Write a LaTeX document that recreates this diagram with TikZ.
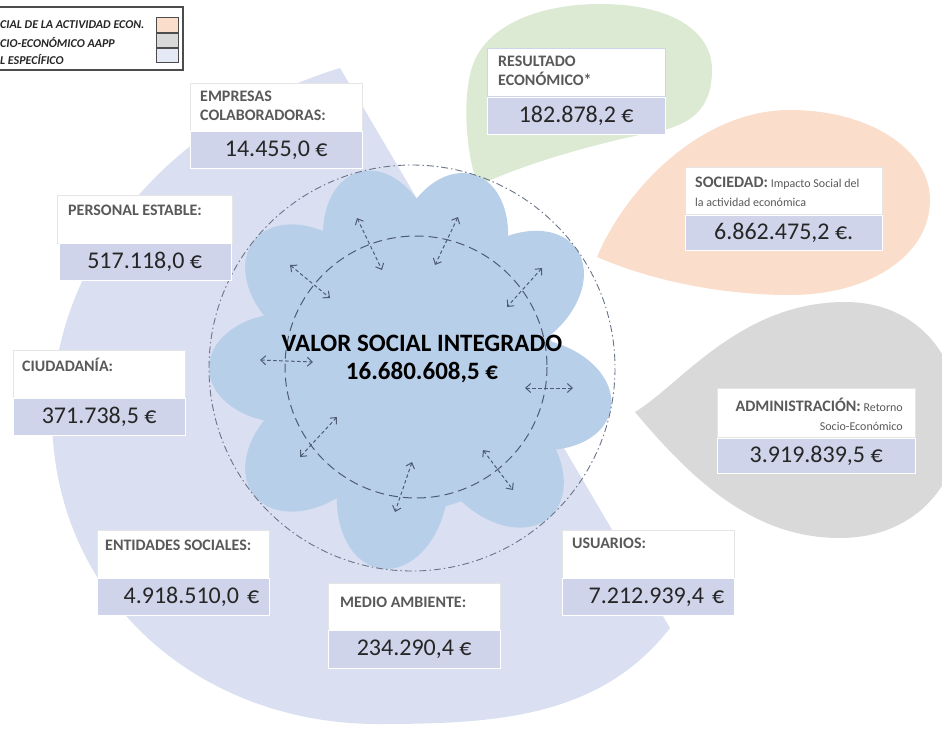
\documentclass[tikz,border=0pt]{standalone}
\usepackage{fontspec}
\setmainfont{Carlito}
\usetikzlibrary{positioning,arrows.meta}
\definecolor{bgblue}{RGB}{218,224,241}
\definecolor{flower}{RGB}{184,207,234}
\definecolor{valblue}{RGB}{207,212,234}
\definecolor{greenbub}{RGB}{220,234,211}
\definecolor{peachbub}{RGB}{250,221,202}
\definecolor{graybub}{RGB}{217,217,217}
\definecolor{lbltxt}{RGB}{89,89,89}
\definecolor{valtxt}{RGB}{38,38,38}
\definecolor{ringcol}{RGB}{78,92,115}
\tikzset{lbl box/.style={fill=white,draw=black!10,minimum width=172pt,minimum height=48pt,inner sep=0pt,anchor=north west},
  val box/.style={fill=valblue,draw=white,minimum width=172pt,minimum height=37pt,inner sep=0pt,text=valtxt,font=\fontsize{24}{24}\selectfont},
  val right/.style={align=right,text width=152pt},
  lbl txt/.style={text=lbltxt,align=left,inner sep=0pt,anchor=north west,font=\bfseries\fontsize{16}{19}\selectfont},
  small txt/.style={font=\fontsize{12}{19}\selectfont},
  swatch/.style={draw=black!70,line width=0.8pt,minimum width=22pt,minimum height=14.5pt,inner sep=0pt},
  leg txt/.style={anchor=west,inner sep=0pt,text=black!85,font=\bfseries\itshape\fontsize{12}{12}\selectfont},
  dash ring/.style={draw=ringcol,line width=1pt,dash pattern=on 9pt off 5pt},
  dashdot ring/.style={draw=ringcol!85,line width=0.9pt,dash pattern=on 7pt off 3pt on 1.5pt off 3pt},
  dbl arrow/.style={draw=ringcol,line width=1pt,dash pattern=on 3.5pt off 2.5pt,{Straight Barb[length=5pt,width=9pt]}-{Straight Barb[length=5pt,width=9pt]}}}

\begin{document}
\begin{tikzpicture}[x=1pt,y=-1pt]
\useasboundingbox (0,0) rectangle (942,736);
\clip (0,0) rectangle (942,736);

% fondo
\fill[bgblue] (340,68) -- (670,628) .. controls (600,718) and (495,724) .. (378,724)
  .. controls (200,724) and (55,600) .. (52,420)
  .. controls (50,260) and (170,120) .. (340,68) -- cycle;

% globos
\fill[greenbub] (478,186) .. controls (468,160) and (462,110) .. (470,75)
  .. controls (480,25) and (540,4) .. (600,4)
  .. controls (670,4) and (712,30) .. (712,70)
  .. controls (712,110) and (690,125) .. (655,132)
  .. controls (600,142) and (520,165) .. (478,186) -- cycle;
\fill[peachbub] (597,257) .. controls (625,190) and (700,110) .. (790,110)
  .. controls (870,110) and (930,150) .. (930,200)
  .. controls (930,255) and (870,295) .. (790,295)
  .. controls (720,295) and (650,280) .. (597,257) -- cycle;
\fill[graybub] (635,412) .. controls (680,385) and (740,302) .. (845,302)
  .. controls (920,302) and (960,360) .. (960,420)
  .. controls (960,490) and (910,538) .. (840,538)
  .. controls (760,538) and (700,490) .. (635,412) -- cycle;

% flor
\coordinate (fc) at (412,368);
\fill[flower] (fc) circle (142);
\foreach \a in {12,47,99,141,180,219,255,288,324}
  \fill[flower] (fc) ++(\a:124) ellipse [x radius=79, y radius=55, rotate=-\a];

\draw[dashdot ring] (fc) circle (203);
\draw[dash ring] (416,367) circle (131);

% flechas
\foreach \i/\sx/\sy/\ex/\ey in {1/357/218/382/270, 2/458/217/435/265, 3/542/268/507/307,
    4/573/388/525/388, 5/483/450/513/490, 6/412/462/395/512,
    7/337/417/300/457, 8/260/360/313/362, 9/290/265/330/298}{
  \coordinate (s\i) at (\sx,\sy);
  \coordinate (e\i) at (\ex,\ey);
  \draw[dbl arrow] (s\i) -- (e\i);
}

\node[align=center,text=black,font=\bfseries\fontsize{25}{28}\selectfont] (vsi) at (422,359) {VALOR SOCIAL INTEGRADO\\16.680.608,5 €};

% cajas
\node[lbl box] (emp) at (190,83) {};
\node[val box, below=0pt of emp] (empv) {14.455,0 €};
\node[lbl txt] (empt) at (200,91) {EMPRESAS\\COLABORADORAS:};

\node[lbl box, minimum width=175pt] (per) at (57,195) {};
\node[val box, below=0pt of per] (perv) {517.118,0 €};
\node[lbl txt] (pert) at (68,205) {PERSONAL ESTABLE:};

\node[lbl box] (ciu) at (13,350) {};
\node[val box, below=0pt of ciu] (ciuv) {371.738,5 €};
\node[lbl txt] (ciut) at (22,358) {CIUDADANÍA:};

\node[lbl box] (ent) at (97,530) {};
\node[val box, val right, below=0pt of ent] (entv) {4.918.510,0 €};
\node[lbl txt] (entt) at (105,540) {ENTIDADES SOCIALES:};

\node[lbl box, minimum height=47pt] (med) at (328,583) {};
\node[val box, minimum height=38pt, below=0pt of med] (medv) {234.290,4 €};
\node[lbl txt] (medt) at (340,597) {MEDIO AMBIENTE:};

\node[lbl box] (usu) at (562,530) {};
\node[val box, val right, below=0pt of usu] (usuv) {7.212.939,4 €};
\node[lbl txt] (usut) at (572,538) {USUARIOS:};

\node[lbl box, minimum width=178pt, draw=valblue] (res) at (487,48) {};
\node[val box, minimum width=178pt, below=1pt of res] (resv) {182.878,2 €};
\node[lbl txt] (rest) at (498,56) {RESULTADO\\ECONÓMICO*};

\node[lbl box, minimum width=197pt, minimum height=47pt] (soc) at (685,167) {};
\node[val box, minimum width=197pt, minimum height=35pt, below=1pt of soc] (socv) {6.862.475,2 €.};
\node[lbl txt, small txt] (soct) at (695,177) {{\bfseries\fontsize{16}{19}\selectfont SOCIEDAD:} Impacto Social del\\la actividad económica};

\node[lbl box, minimum width=198pt, minimum height=49pt] (adm) at (717,388) {};
\node[val box, minimum width=198pt, minimum height=35pt, below=1pt of adm] (admv) {3.919.839,5 €};
\node[lbl txt, small txt, anchor=north east, align=right] (admt) at (903,398) {{\bfseries\fontsize{16}{19}\selectfont ADMINISTRACIÓN:} Retorno\\Socio-Económico};

% leyenda
\draw[draw=black!70, line width=1.2pt, fill=white] (-5,7) rectangle (183,70);
\node[swatch, fill=peachbub] (sw1) at (167,25) {};
\node[swatch, fill=graybub, below=0pt of sw1] (sw2) {};
\node[swatch, fill=bgblue!70!white, below=0pt of sw2] (sw3) {};
\node[leg txt] (lt1) at (0,25) {CIAL DE LA ACTIVIDAD ECON.};
\node[leg txt] (lt2) at (0,43) {CIO-ECONÓMICO AAPP};
\node[leg txt] (lt3) at (0,60) {L ESPECÍFICO};
\end{tikzpicture}
\end{document}
